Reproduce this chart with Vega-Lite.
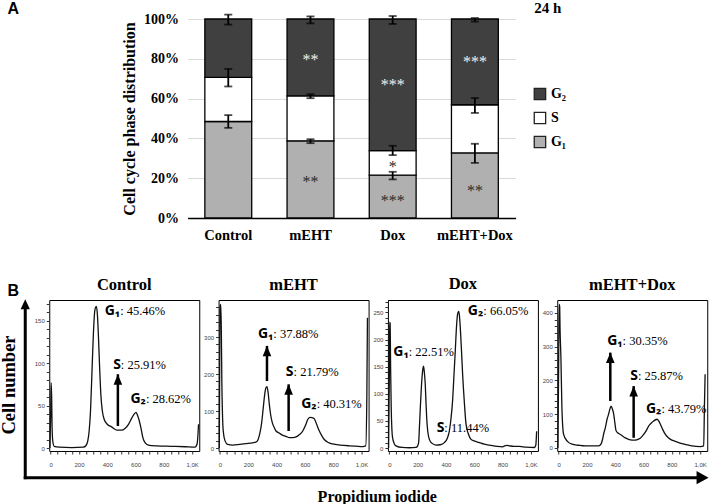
{
  "$schema": "https://vega.github.io/schema/vega-lite/v6.json",
  "padding": {"left": -0.75, "top": 0, "right": 0, "bottom": 0},
  "autosize": {"type": "pad"},
  "background": "white",
  "config": {"view": {"stroke": null}, "font": "Liberation Serif"},
  "datasets": {
    "bars": [
      {"group": "Control", "phase": "G₁", "k": 1, "val": 48.5},
      {"group": "Control", "phase": "S", "k": 2, "val": 22.2},
      {"group": "Control", "phase": "G₂", "k": 3, "val": 29.3},
      {"group": "mEHT", "phase": "G₁", "k": 1, "val": 38.8},
      {"group": "mEHT", "phase": "S", "k": 2, "val": 22.6},
      {"group": "mEHT", "phase": "G₂", "k": 3, "val": 38.6},
      {"group": "Dox", "phase": "G₁", "k": 1, "val": 21.5},
      {"group": "Dox", "phase": "S", "k": 2, "val": 12.4},
      {"group": "Dox", "phase": "G₂", "k": 3, "val": 66.1},
      {"group": "mEHT+Dox", "phase": "G₁", "k": 1, "val": 32.7},
      {"group": "mEHT+Dox", "phase": "S", "k": 2, "val": 24.2},
      {"group": "mEHT+Dox", "phase": "G₂", "k": 3, "val": 43.1}
    ],
    "errs": [
      {"group": "Control", "lo": 45.3, "hi": 51.7},
      {"group": "Control", "lo": 66.1, "hi": 74.9},
      {"group": "Control", "lo": 97.2, "hi": 102.2},
      {"group": "mEHT", "lo": 37.6, "hi": 39.6},
      {"group": "mEHT", "lo": 60.2, "hi": 62.2},
      {"group": "mEHT", "lo": 97.8, "hi": 101.3},
      {"group": "Dox", "lo": 19.4, "hi": 23.2},
      {"group": "Dox", "lo": 31.6, "hi": 36.3},
      {"group": "Dox", "lo": 97.5, "hi": 101.5},
      {"group": "mEHT+Dox", "lo": 27.7, "hi": 37.3},
      {"group": "mEHT+Dox", "lo": 52.8, "hi": 60.3},
      {"group": "mEHT+Dox", "lo": 98.7, "hi": 100.5}
    ],
    "stars": [
      {"group": "mEHT", "phase": "G₂", "y": 81, "t": "**"},
      {"group": "mEHT", "phase": "G₁", "y": 19.6, "t": "**"},
      {"group": "Dox", "phase": "G₂", "y": 68.4, "t": "***"},
      {"group": "Dox", "phase": "S", "y": 27, "t": "*"},
      {"group": "Dox", "phase": "G₁", "y": 10, "t": "***"},
      {"group": "mEHT+Dox", "phase": "G₂", "y": 80, "t": "***"},
      {"group": "mEHT+Dox", "phase": "G₁", "y": 15, "t": "**"}
    ],
    "curves": [
      {"panel": "Control", "x": -5, "y": 0}, {"panel": "Control", "x": 0, "y": 40}, {"panel": "Control", "x": 3, "y": 77}, {"panel": "Control", "x": 7, "y": 60}, {"panel": "Control", "x": 10, "y": 25}, {"panel": "Control", "x": 15, "y": 8}, {"panel": "Control", "x": 25, "y": 2}, {"panel": "Control", "x": 60, "y": 1}, {"panel": "Control", "x": 150, "y": 0.5}, {"panel": "Control", "x": 230, "y": 1}, {"panel": "Control", "x": 250, "y": 3}, {"panel": "Control", "x": 262, "y": 8}, {"panel": "Control", "x": 272, "y": 20}, {"panel": "Control", "x": 282, "y": 45}, {"panel": "Control", "x": 292, "y": 90}, {"panel": "Control", "x": 302, "y": 135}, {"panel": "Control", "x": 312, "y": 162}, {"panel": "Control", "x": 322, "y": 167}, {"panel": "Control", "x": 330, "y": 158}, {"panel": "Control", "x": 338, "y": 130}, {"panel": "Control", "x": 346, "y": 95}, {"panel": "Control", "x": 355, "y": 62}, {"panel": "Control", "x": 365, "y": 44}, {"panel": "Control", "x": 378, "y": 34}, {"panel": "Control", "x": 400, "y": 28}, {"panel": "Control", "x": 430, "y": 25}, {"panel": "Control", "x": 470, "y": 21}, {"panel": "Control", "x": 500, "y": 21}, {"panel": "Control", "x": 525, "y": 23}, {"panel": "Control", "x": 550, "y": 28}, {"panel": "Control", "x": 572, "y": 35}, {"panel": "Control", "x": 590, "y": 40}, {"panel": "Control", "x": 604, "y": 42}, {"panel": "Control", "x": 615, "y": 38}, {"panel": "Control", "x": 628, "y": 31}, {"panel": "Control", "x": 640, "y": 22}, {"panel": "Control", "x": 652, "y": 12}, {"panel": "Control", "x": 668, "y": 6}, {"panel": "Control", "x": 690, "y": 3.5}, {"panel": "Control", "x": 750, "y": 2.5}, {"panel": "Control", "x": 850, "y": 2}, {"panel": "Control", "x": 950, "y": 1.5}, {"panel": "Control", "x": 1020, "y": 1}, {"panel": "Control", "x": 1035, "y": 5}, {"panel": "Control", "x": 1045, "y": 28},
      {"panel": "mEHT", "x": -5, "y": 0}, {"panel": "mEHT", "x": 0, "y": 380}, {"panel": "mEHT", "x": 6, "y": 388}, {"panel": "mEHT", "x": 10, "y": 300}, {"panel": "mEHT", "x": 13, "y": 180}, {"panel": "mEHT", "x": 17, "y": 100}, {"panel": "mEHT", "x": 23, "y": 46}, {"panel": "mEHT", "x": 35, "y": 20}, {"panel": "mEHT", "x": 54, "y": 10}, {"panel": "mEHT", "x": 90, "y": 8}, {"panel": "mEHT", "x": 140, "y": 10}, {"panel": "mEHT", "x": 184, "y": 12}, {"panel": "mEHT", "x": 230, "y": 14}, {"panel": "mEHT", "x": 254, "y": 16}, {"panel": "mEHT", "x": 268, "y": 22}, {"panel": "mEHT", "x": 282, "y": 40}, {"panel": "mEHT", "x": 295, "y": 70}, {"panel": "mEHT", "x": 306, "y": 110}, {"panel": "mEHT", "x": 316, "y": 145}, {"panel": "mEHT", "x": 324, "y": 162}, {"panel": "mEHT", "x": 332, "y": 166}, {"panel": "mEHT", "x": 340, "y": 150}, {"panel": "mEHT", "x": 348, "y": 120}, {"panel": "mEHT", "x": 358, "y": 90}, {"panel": "mEHT", "x": 370, "y": 68}, {"panel": "mEHT", "x": 385, "y": 54}, {"panel": "mEHT", "x": 396, "y": 46}, {"panel": "mEHT", "x": 420, "y": 40}, {"panel": "mEHT", "x": 442, "y": 35}, {"panel": "mEHT", "x": 470, "y": 31}, {"panel": "mEHT", "x": 490, "y": 28}, {"panel": "mEHT", "x": 515, "y": 28}, {"panel": "mEHT", "x": 538, "y": 30}, {"panel": "mEHT", "x": 560, "y": 36}, {"panel": "mEHT", "x": 585, "y": 46}, {"panel": "mEHT", "x": 605, "y": 62}, {"panel": "mEHT", "x": 620, "y": 77}, {"panel": "mEHT", "x": 635, "y": 83}, {"panel": "mEHT", "x": 650, "y": 82}, {"panel": "mEHT", "x": 665, "y": 80}, {"panel": "mEHT", "x": 685, "y": 62}, {"panel": "mEHT", "x": 702, "y": 46}, {"panel": "mEHT", "x": 720, "y": 33}, {"panel": "mEHT", "x": 737, "y": 23}, {"panel": "mEHT", "x": 765, "y": 15}, {"panel": "mEHT", "x": 796, "y": 11}, {"panel": "mEHT", "x": 850, "y": 8}, {"panel": "mEHT", "x": 914, "y": 6}, {"panel": "mEHT", "x": 960, "y": 5}, {"panel": "mEHT", "x": 1008, "y": 4}, {"panel": "mEHT", "x": 1030, "y": 6}, {"panel": "mEHT", "x": 1038, "y": 150}, {"panel": "mEHT", "x": 1042, "y": 352},
      {"panel": "Dox", "x": -5, "y": 0}, {"panel": "Dox", "x": 0, "y": 130}, {"panel": "Dox", "x": 2, "y": 232}, {"panel": "Dox", "x": 6, "y": 230}, {"panel": "Dox", "x": 9, "y": 150}, {"panel": "Dox", "x": 13, "y": 80}, {"panel": "Dox", "x": 18, "y": 35}, {"panel": "Dox", "x": 23, "y": 19}, {"panel": "Dox", "x": 35, "y": 8}, {"panel": "Dox", "x": 47, "y": 4}, {"panel": "Dox", "x": 90, "y": 1}, {"panel": "Dox", "x": 141, "y": 0.5}, {"panel": "Dox", "x": 188, "y": 1}, {"panel": "Dox", "x": 200, "y": 4}, {"panel": "Dox", "x": 207, "y": 10}, {"panel": "Dox", "x": 213, "y": 40}, {"panel": "Dox", "x": 219, "y": 74}, {"panel": "Dox", "x": 225, "y": 105}, {"panel": "Dox", "x": 231, "y": 130}, {"panel": "Dox", "x": 237, "y": 146}, {"panel": "Dox", "x": 242, "y": 151}, {"panel": "Dox", "x": 248, "y": 138}, {"panel": "Dox", "x": 254, "y": 117}, {"panel": "Dox", "x": 259, "y": 85}, {"panel": "Dox", "x": 264, "y": 56}, {"panel": "Dox", "x": 272, "y": 30}, {"panel": "Dox", "x": 283, "y": 16}, {"panel": "Dox", "x": 300, "y": 9}, {"panel": "Dox", "x": 330, "y": 5.5}, {"panel": "Dox", "x": 360, "y": 6}, {"panel": "Dox", "x": 389, "y": 10}, {"panel": "Dox", "x": 410, "y": 18}, {"panel": "Dox", "x": 424, "y": 31}, {"panel": "Dox", "x": 436, "y": 55}, {"panel": "Dox", "x": 447, "y": 87}, {"panel": "Dox", "x": 456, "y": 130}, {"panel": "Dox", "x": 466, "y": 179}, {"panel": "Dox", "x": 475, "y": 225}, {"panel": "Dox", "x": 483, "y": 248}, {"panel": "Dox", "x": 490, "y": 252}, {"panel": "Dox", "x": 495, "y": 245}, {"panel": "Dox", "x": 500, "y": 228}, {"panel": "Dox", "x": 509, "y": 185}, {"panel": "Dox", "x": 518, "y": 136}, {"panel": "Dox", "x": 530, "y": 85}, {"panel": "Dox", "x": 542, "y": 44}, {"panel": "Dox", "x": 560, "y": 25}, {"panel": "Dox", "x": 577, "y": 16}, {"panel": "Dox", "x": 600, "y": 13}, {"panel": "Dox", "x": 636, "y": 10}, {"panel": "Dox", "x": 670, "y": 7}, {"panel": "Dox", "x": 707, "y": 5.5}, {"panel": "Dox", "x": 760, "y": 3}, {"panel": "Dox", "x": 801, "y": 2}, {"panel": "Dox", "x": 815, "y": 4}, {"panel": "Dox", "x": 830, "y": 5}, {"panel": "Dox", "x": 850, "y": 4}, {"panel": "Dox", "x": 880, "y": 3}, {"panel": "Dox", "x": 920, "y": 3}, {"panel": "Dox", "x": 966, "y": 1.5}, {"panel": "Dox", "x": 1025, "y": 1}, {"panel": "Dox", "x": 1035, "y": 5}, {"panel": "Dox", "x": 1041, "y": 31},
      {"panel": "mEHT+Dox", "x": -5, "y": 0}, {"panel": "mEHT+Dox", "x": 0, "y": 250}, {"panel": "mEHT+Dox", "x": 3, "y": 425}, {"panel": "mEHT+Dox", "x": 7, "y": 420}, {"panel": "mEHT+Dox", "x": 10, "y": 350}, {"panel": "mEHT+Dox", "x": 16, "y": 267}, {"panel": "mEHT+Dox", "x": 23, "y": 119}, {"panel": "mEHT+Dox", "x": 35, "y": 40}, {"panel": "mEHT+Dox", "x": 59, "y": 21}, {"panel": "mEHT+Dox", "x": 94, "y": 11}, {"panel": "mEHT+Dox", "x": 140, "y": 8}, {"panel": "mEHT+Dox", "x": 188, "y": 6}, {"panel": "mEHT+Dox", "x": 283, "y": 6}, {"panel": "mEHT+Dox", "x": 300, "y": 12}, {"panel": "mEHT+Dox", "x": 310, "y": 25}, {"panel": "mEHT+Dox", "x": 320, "y": 45}, {"panel": "mEHT+Dox", "x": 330, "y": 60}, {"panel": "mEHT+Dox", "x": 342, "y": 85}, {"panel": "mEHT+Dox", "x": 353, "y": 100}, {"panel": "mEHT+Dox", "x": 362, "y": 115}, {"panel": "mEHT+Dox", "x": 370, "y": 124}, {"panel": "mEHT+Dox", "x": 380, "y": 115}, {"panel": "mEHT+Dox", "x": 389, "y": 100}, {"panel": "mEHT+Dox", "x": 397, "y": 75}, {"panel": "mEHT+Dox", "x": 405, "y": 52}, {"panel": "mEHT+Dox", "x": 420, "y": 44}, {"panel": "mEHT+Dox", "x": 436, "y": 40}, {"panel": "mEHT+Dox", "x": 471, "y": 30}, {"panel": "mEHT+Dox", "x": 518, "y": 23}, {"panel": "mEHT+Dox", "x": 540, "y": 23}, {"panel": "mEHT+Dox", "x": 565, "y": 26}, {"panel": "mEHT+Dox", "x": 585, "y": 32}, {"panel": "mEHT+Dox", "x": 601, "y": 40}, {"panel": "mEHT+Dox", "x": 620, "y": 52}, {"panel": "mEHT+Dox", "x": 636, "y": 65}, {"panel": "mEHT+Dox", "x": 655, "y": 74}, {"panel": "mEHT+Dox", "x": 671, "y": 80}, {"panel": "mEHT+Dox", "x": 695, "y": 85}, {"panel": "mEHT+Dox", "x": 710, "y": 78}, {"panel": "mEHT+Dox", "x": 719, "y": 70}, {"panel": "mEHT+Dox", "x": 735, "y": 55}, {"panel": "mEHT+Dox", "x": 754, "y": 40}, {"panel": "mEHT+Dox", "x": 775, "y": 30}, {"panel": "mEHT+Dox", "x": 801, "y": 23}, {"panel": "mEHT+Dox", "x": 835, "y": 18}, {"panel": "mEHT+Dox", "x": 872, "y": 13}, {"panel": "mEHT+Dox", "x": 910, "y": 9}, {"panel": "mEHT+Dox", "x": 942, "y": 6}, {"panel": "mEHT+Dox", "x": 1001, "y": 4}, {"panel": "mEHT+Dox", "x": 1025, "y": 6}, {"panel": "mEHT+Dox", "x": 1030, "y": 120}, {"panel": "mEHT+Dox", "x": 1035, "y": 218}
    ],
    "ann": [
      {"panel": "Control", "x": 491, "y": 157, "lab": "G₁", "val": ": 45.46%"},
      {"panel": "Control", "x": 496, "y": 93, "lab": "S", "val": ": 25.91%"},
      {"panel": "Control", "x": 673, "y": 53.5, "lab": "G₂", "val": ": 28.62%"},
      {"panel": "mEHT", "x": 377, "y": 298, "lab": "G₁", "val": ": 37.88%"},
      {"panel": "mEHT", "x": 520, "y": 195, "lab": "S", "val": ": 21.79%"},
      {"panel": "mEHT", "x": 683, "y": 107, "lab": "G₂", "val": ": 40.31%"},
      {"panel": "Dox", "x": 664, "y": 245, "lab": "G₂", "val": ": 66.05%"},
      {"panel": "Dox", "x": 137, "y": 170, "lab": "G₁", "val": ": 22.51%"},
      {"panel": "Dox", "x": 389, "y": 30, "lab": "S", "val": ": 11.44%"},
      {"panel": "mEHT+Dox", "x": 452, "y": 305, "lab": "G₁", "val": ": 30.35%"},
      {"panel": "mEHT+Dox", "x": 560, "y": 200, "lab": "S", "val": ": 25.87%"},
      {"panel": "mEHT+Dox", "x": 726, "y": 104, "lab": "G₂", "val": ": 43.79%"}
    ],
    "arr": [
      {"panel": "Control", "x": 475, "y": 26, "y1": 87},
      {"panel": "mEHT", "x": 332, "y": 181, "y1": 276},
      {"panel": "mEHT", "x": 485, "y": 46, "y1": 172},
      {"panel": "mEHT+Dox", "x": 365, "y": 139, "y1": 282},
      {"panel": "mEHT+Dox", "x": 530, "y": 30, "y1": 183}
    ],
    "frameLines": [
      {"u": -24, "v": 460.2, "u2": -24, "v2": 284},
      {"u": -25.5, "v": 458.7, "u2": 652, "v2": 458.7}
    ],
    "frameHeads": [
      {"dir": "up", "u": -24, "v": 285.3},
      {"dir": "right", "u": 653.3, "v": 458.7}
    ],
    "frameText": [
      {"kind": "ytitle", "u": -40.5, "v": 366, "t": "Cell number"},
      {"kind": "xtitle", "u": 328, "v": 483, "t": "Propidium iodide"},
      {"kind": "letter", "u": -41.7, "v": -4.7, "t": "A"},
      {"kind": "letter", "u": -41.7, "v": 277, "t": "B"},
      {"kind": "time", "u": 485, "v": -6.3, "t": "24 h"}
    ]
  },
  "vconcat": [
    {
      "hconcat": [
        {
          "width": 119,
          "height": 199,
          "encoding": {
            "x": {"field": "u", "type": "quantitative", "scale": {"domain": [0, 119], "nice": false, "zero": false}, "axis": null},
            "y": {"field": "v", "type": "quantitative", "scale": {"domain": [0, 199], "reverse": true, "nice": false, "zero": false}, "axis": null}
          },
          "layer": [
            {"data": {"name": "frameLines"}, "mark": {"type": "rule", "color": "black", "strokeWidth": 3}, "encoding": {"x2": {"field": "u2"}, "y2": {"field": "v2"}}},
            {"data": {"name": "frameHeads"}, "transform": [{"filter": "datum.dir === 'up'"}], "mark": {"type": "point", "shape": "M0,-1L-0.93,1L0.93,1Z", "size": 100, "filled": true, "color": "black", "opacity": 1}},
            {"data": {"name": "frameHeads"}, "transform": [{"filter": "datum.dir === 'right'"}], "mark": {"type": "point", "shape": "M1,0L-1,-1.1L-1,1.1Z", "size": 144, "filled": true, "color": "black", "opacity": 1}},
            {"data": {"name": "frameText"}, "transform": [{"filter": "datum.kind === 'ytitle'"}], "mark": {"type": "text", "angle": 270, "align": "center", "baseline": "middle", "font": "Liberation Serif", "fontWeight": "bold", "fontSize": 18.5, "color": "black"}, "encoding": {"text": {"field": "t"}}},
            {"data": {"name": "frameText"}, "transform": [{"filter": "datum.kind === 'xtitle'"}], "mark": {"type": "text", "align": "center", "baseline": "alphabetic", "font": "Liberation Serif", "fontWeight": "bold", "fontSize": 16, "color": "black"}, "encoding": {"text": {"field": "t"}}},
            {"data": {"name": "frameText"}, "transform": [{"filter": "datum.kind === 'letter'"}], "mark": {"type": "text", "align": "left", "baseline": "alphabetic", "font": "Liberation Sans", "fontWeight": "bold", "fontSize": 16, "color": "black"}, "encoding": {"text": {"field": "t"}}},
            {"data": {"name": "frameText"}, "transform": [{"filter": "datum.kind === 'time'"}], "mark": {"type": "text", "align": "left", "baseline": "alphabetic", "font": "Liberation Serif", "fontWeight": "bold", "fontSize": 15, "color": "black"}, "encoding": {"text": {"field": "t"}}}
          ]
        },
        {
          "width": 328,
          "height": 199,
          "layer": [
            {
              "data": {"name": "bars"},
              "mark": {"type": "bar", "stroke": "black", "strokeWidth": 1.3},
              "encoding": {
                "x": {"field": "group", "type": "nominal", "title": null, "scale": {"domain": ["Control", "mEHT", "Dox", "mEHT+Dox"], "paddingInner": 0.43, "paddingOuter": 0.21},
                  "axis": {"labelAngle": 0, "labelFont": "Liberation Serif", "labelFontWeight": "bold", "labelFontSize": 14.5, "labelColor": "black", "ticks": false, "domain": true, "domainColor": "black", "domainWidth": 1.5, "labelPadding": 10}},
                "y": {"field": "val", "type": "quantitative", "stack": "zero", "title": "Cell cycle phase distribution", "scale": {"domain": [0, 100], "nice": false},
                  "axis": {"values": [0, 20, 40, 60, 80, 100], "labelExpr": "datum.value + '%'", "labelOverlap": false, "labelFont": "Liberation Serif", "labelFontSize": 14, "labelFontWeight": "bold", "labelColor": "black", "ticks": false, "domain": false, "grid": true, "gridColor": "#d9d9d9", "gridWidth": 1, "labelPadding": 9, "titleFont": "Liberation Serif", "titleFontSize": 16, "titleFontWeight": "bold", "titleColor": "black", "titlePadding": 6}},
                "color": {"field": "phase", "type": "nominal", "scale": {"domain": ["G₂", "S", "G₁"], "range": ["#404040", "#ffffff", "#b0b0b0"]},
                  "legend": {"orient": "none", "legendX": 483.7, "legendY": 68, "title": null, "symbolType": "square", "symbolSize": 130, "symbolStrokeColor": "#222", "symbolStrokeWidth": 1.3, "symbolOpacity": 1, "labelFont": "Liberation Serif", "labelFontWeight": "bold", "labelFontSize": 14, "labelColor": "black", "rowPadding": 6, "labelOffset": 4, "padding": 0}},
                "order": {"field": "k", "type": "quantitative"}
              }
            },
            {
              "data": {"name": "errs"},
              "mark": {"type": "rule", "color": "black", "strokeWidth": 1.8},
              "encoding": {
                "x": {"field": "group", "type": "nominal", "title": null, "scale": {"domain": ["Control", "mEHT", "Dox", "mEHT+Dox"]},
                  "axis": {"labelAngle": 0, "labelFont": "Liberation Serif", "labelFontWeight": "bold", "labelFontSize": 14.5, "labelColor": "black", "ticks": false, "domain": true, "domainColor": "black", "domainWidth": 1.5, "labelPadding": 10}},
                "y": {"field": "lo", "type": "quantitative", "title": "Cell cycle phase distribution", "scale": {"domain": [0, 100], "nice": false},
                  "axis": {"values": [0, 20, 40, 60, 80, 100], "labelExpr": "datum.value + '%'", "labelOverlap": false, "labelFont": "Liberation Serif", "labelFontSize": 14, "labelFontWeight": "bold", "labelColor": "black", "ticks": false, "domain": false, "grid": true, "gridColor": "#d9d9d9", "gridWidth": 1, "labelPadding": 9, "titleFont": "Liberation Serif", "titleFontSize": 16, "titleFontWeight": "bold", "titleColor": "black", "titlePadding": 6}},
                "y2": {"field": "hi"}
              }
            },
            {
              "data": {"name": "errs"},
              "mark": {"type": "tick", "color": "black", "thickness": 1.8, "size": 8},
              "encoding": {
                "x": {"field": "group", "type": "nominal", "title": null, "scale": {"domain": ["Control", "mEHT", "Dox", "mEHT+Dox"]},
                  "axis": {"labelAngle": 0, "labelFont": "Liberation Serif", "labelFontWeight": "bold", "labelFontSize": 14.5, "labelColor": "black", "ticks": false, "domain": true, "domainColor": "black", "domainWidth": 1.5, "labelPadding": 10}},
                "y": {"field": "lo", "type": "quantitative", "title": "Cell cycle phase distribution", "scale": {"domain": [0, 100], "nice": false},
                  "axis": {"values": [0, 20, 40, 60, 80, 100], "labelExpr": "datum.value + '%'", "labelOverlap": false, "labelFont": "Liberation Serif", "labelFontSize": 14, "labelFontWeight": "bold", "labelColor": "black", "ticks": false, "domain": false, "grid": true, "gridColor": "#d9d9d9", "gridWidth": 1, "labelPadding": 9, "titleFont": "Liberation Serif", "titleFontSize": 16, "titleFontWeight": "bold", "titleColor": "black", "titlePadding": 6}}
              }
            },
            {
              "data": {"name": "errs"},
              "mark": {"type": "tick", "color": "black", "thickness": 1.8, "size": 8},
              "encoding": {
                "x": {"field": "group", "type": "nominal", "title": null, "scale": {"domain": ["Control", "mEHT", "Dox", "mEHT+Dox"]},
                  "axis": {"labelAngle": 0, "labelFont": "Liberation Serif", "labelFontWeight": "bold", "labelFontSize": 14.5, "labelColor": "black", "ticks": false, "domain": true, "domainColor": "black", "domainWidth": 1.5, "labelPadding": 10}},
                "y": {"field": "hi", "type": "quantitative", "title": "Cell cycle phase distribution", "scale": {"domain": [0, 100], "nice": false},
                  "axis": {"values": [0, 20, 40, 60, 80, 100], "labelExpr": "datum.value + '%'", "labelOverlap": false, "labelFont": "Liberation Serif", "labelFontSize": 14, "labelFontWeight": "bold", "labelColor": "black", "ticks": false, "domain": false, "grid": true, "gridColor": "#d9d9d9", "gridWidth": 1, "labelPadding": 9, "titleFont": "Liberation Serif", "titleFontSize": 16, "titleFontWeight": "bold", "titleColor": "black", "titlePadding": 6}}
              }
            },
            {
              "data": {"name": "stars"},
              "transform": [{"filter": "datum.phase === 'G₂'"}],
              "mark": {"type": "text", "font": "Liberation Serif", "fontSize": 16, "baseline": "alphabetic", "dy": 8, "color": "#f0f0f0"},
              "encoding": {
                "x": {"field": "group", "type": "nominal", "title": null, "scale": {"domain": ["Control", "mEHT", "Dox", "mEHT+Dox"]},
                  "axis": {"labelAngle": 0, "labelFont": "Liberation Serif", "labelFontWeight": "bold", "labelFontSize": 14.5, "labelColor": "black", "ticks": false, "domain": true, "domainColor": "black", "domainWidth": 1.5, "labelPadding": 10}},
                "y": {"field": "y", "type": "quantitative", "title": "Cell cycle phase distribution", "scale": {"domain": [0, 100], "nice": false},
                  "axis": {"values": [0, 20, 40, 60, 80, 100], "labelExpr": "datum.value + '%'", "labelOverlap": false, "labelFont": "Liberation Serif", "labelFontSize": 14, "labelFontWeight": "bold", "labelColor": "black", "ticks": false, "domain": false, "grid": true, "gridColor": "#d9d9d9", "gridWidth": 1, "labelPadding": 9, "titleFont": "Liberation Serif", "titleFontSize": 16, "titleFontWeight": "bold", "titleColor": "black", "titlePadding": 6}},
                "text": {"field": "t"}
              }
            },
            {
              "data": {"name": "stars"},
              "transform": [{"filter": "datum.phase !== 'G₂'"}],
              "mark": {"type": "text", "font": "Liberation Serif", "fontSize": 16, "baseline": "alphabetic", "dy": 8, "color": "#2b2b2b"},
              "encoding": {
                "x": {"field": "group", "type": "nominal", "title": null, "scale": {"domain": ["Control", "mEHT", "Dox", "mEHT+Dox"]},
                  "axis": {"labelAngle": 0, "labelFont": "Liberation Serif", "labelFontWeight": "bold", "labelFontSize": 14.5, "labelColor": "black", "ticks": false, "domain": true, "domainColor": "black", "domainWidth": 1.5, "labelPadding": 10}},
                "y": {"field": "y", "type": "quantitative", "title": "Cell cycle phase distribution", "scale": {"domain": [0, 100], "nice": false},
                  "axis": {"values": [0, 20, 40, 60, 80, 100], "labelExpr": "datum.value + '%'", "labelOverlap": false, "labelFont": "Liberation Serif", "labelFontSize": 14, "labelFontWeight": "bold", "labelColor": "black", "ticks": false, "domain": false, "grid": true, "gridColor": "#d9d9d9", "gridWidth": 1, "labelPadding": 9, "titleFont": "Liberation Serif", "titleFontSize": 16, "titleFontWeight": "bold", "titleColor": "black", "titlePadding": 6}},
                "text": {"field": "t"}
              }
            }
          ]
        }
      ],
      "spacing": 19.33,
      "bounds": "flush"
    },
    {
      "hconcat": [
        {
          "width": 150,
          "height": 151,
          "view": {"stroke": "black", "strokeWidth": 1},
          "title": {"text": "Control", "font": "Liberation Serif", "fontSize": 16.5, "fontWeight": "bold", "color": "black", "offset": -6.8, "baseline": "alphabetic", "anchor": "middle"},
          "encoding": {
            "x": {"field": "x", "type": "quantitative", "title": null, "scale": {"domain": [-10, 1050], "nice": false, "zero": false},
              "axis": {"values": [0, 50, 100, 150, 200, 250, 300, 350, 400, 450, 500, 550, 600, 650, 700, 750, 800, 850, 900, 950, 1000], "labelExpr": "datum.value == 1000 ? '1,0K' : (datum.value % 200 == 0 ? datum.label : '')", "labelOverlap": false, "labelFont": "Liberation Sans", "labelFontSize": 6, "labelColor": "#444", "tickSize": 3, "tickColor": "#333", "domain": false, "grid": false, "labelPadding": 7}},
            "y": {"field": "y", "type": "quantitative", "title": null, "scale": {"domain": [-3.5, 174.5], "nice": false, "zero": false},
              "axis": {"values": [0, 10, 20, 30, 40, 50, 60, 70, 80, 90, 100, 110, 120, 130, 140, 150, 160, 170], "labelExpr": "datum.value % 50 == 0 ? datum.label : ''", "labelOverlap": false, "labelFont": "Liberation Sans", "labelFontSize": 6, "labelColor": "#444", "tickSize": 3, "tickColor": "#333", "domain": false, "grid": false, "labelPadding": 2}}
          },
          "layer": [
            {"data": {"name": "curves"}, "transform": [{"filter": "datum.panel === 'Control'"}], "mark": {"type": "line", "color": "#111", "strokeWidth": 1.3, "interpolate": "monotone"}},
            {"data": {"name": "ann"}, "transform": [{"filter": "datum.panel === 'Control'"}], "mark": {"type": "text", "align": "right", "baseline": "alphabetic", "font": "Noto Sans", "fontWeight": "bold", "fontSize": 14, "color": "black"}, "encoding": {"text": {"field": "lab"}}},
            {"data": {"name": "ann"}, "transform": [{"filter": "datum.panel === 'Control'"}], "mark": {"type": "text", "align": "left", "baseline": "alphabetic", "font": "Liberation Serif", "fontSize": 12.5, "color": "black"}, "encoding": {"text": {"field": "val"}}},
            {"data": {"name": "arr"}, "transform": [{"filter": "datum.panel === 'Control'"}], "mark": {"type": "rule", "color": "black", "strokeWidth": 2.5}, "encoding": {"y2": {"field": "y1"}}},
            {"data": {"name": "arr"}, "transform": [{"filter": "datum.panel === 'Control'"}], "mark": {"type": "point", "shape": "M0,-1L-0.82,1L0.82,1Z", "size": 110, "filled": true, "color": "black", "opacity": 1, "yOffset": 5.2}, "encoding": {"y": {"field": "y1", "type": "quantitative", "title": null, "scale": {"domain": [-3.5, 174.5], "nice": false, "zero": false}}}}
          ]
        },
        {
          "width": 150,
          "height": 151,
          "view": {"stroke": "black", "strokeWidth": 1},
          "title": {"text": "mEHT", "font": "Liberation Serif", "fontSize": 16.5, "fontWeight": "bold", "color": "black", "offset": -6.8, "baseline": "alphabetic", "anchor": "middle"},
          "encoding": {
            "x": {"field": "x", "type": "quantitative", "title": null, "scale": {"domain": [-10, 1050], "nice": false, "zero": false},
              "axis": {"values": [0, 50, 100, 150, 200, 250, 300, 350, 400, 450, 500, 550, 600, 650, 700, 750, 800, 850, 900, 950, 1000], "labelExpr": "datum.value == 1000 ? '1,0K' : (datum.value % 200 == 0 ? datum.label : '')", "labelOverlap": false, "labelFont": "Liberation Sans", "labelFontSize": 6, "labelColor": "#444", "tickSize": 3, "tickColor": "#333", "domain": false, "grid": false, "labelPadding": 7}},
            "y": {"field": "y", "type": "quantitative", "title": null, "scale": {"domain": [-8, 400], "nice": false, "zero": false},
              "axis": {"values": [0, 20, 40, 60, 80, 100, 120, 140, 160, 180, 200, 220, 240, 260, 280, 300, 320, 340, 360, 380], "labelExpr": "datum.value % 100 == 0 ? datum.label : ''", "labelOverlap": false, "labelFont": "Liberation Sans", "labelFontSize": 6, "labelColor": "#444", "tickSize": 3, "tickColor": "#333", "domain": false, "grid": false, "labelPadding": 2}}
          },
          "layer": [
            {"data": {"name": "curves"}, "transform": [{"filter": "datum.panel === 'mEHT'"}], "mark": {"type": "line", "color": "#111", "strokeWidth": 1.3, "interpolate": "monotone"}},
            {"data": {"name": "ann"}, "transform": [{"filter": "datum.panel === 'mEHT'"}], "mark": {"type": "text", "align": "right", "baseline": "alphabetic", "font": "Noto Sans", "fontWeight": "bold", "fontSize": 14, "color": "black"}, "encoding": {"text": {"field": "lab"}}},
            {"data": {"name": "ann"}, "transform": [{"filter": "datum.panel === 'mEHT'"}], "mark": {"type": "text", "align": "left", "baseline": "alphabetic", "font": "Liberation Serif", "fontSize": 12.5, "color": "black"}, "encoding": {"text": {"field": "val"}}},
            {"data": {"name": "arr"}, "transform": [{"filter": "datum.panel === 'mEHT'"}], "mark": {"type": "rule", "color": "black", "strokeWidth": 2.5}, "encoding": {"y2": {"field": "y1"}}},
            {"data": {"name": "arr"}, "transform": [{"filter": "datum.panel === 'mEHT'"}], "mark": {"type": "point", "shape": "M0,-1L-0.82,1L0.82,1Z", "size": 110, "filled": true, "color": "black", "opacity": 1, "yOffset": 5.2}, "encoding": {"y": {"field": "y1", "type": "quantitative", "title": null, "scale": {"domain": [-8, 400], "nice": false, "zero": false}}}}
          ]
        },
        {
          "width": 150,
          "height": 151,
          "view": {"stroke": "black", "strokeWidth": 1},
          "title": {"text": "Dox", "font": "Liberation Serif", "fontSize": 16.5, "fontWeight": "bold", "color": "black", "offset": -6.8, "baseline": "alphabetic", "anchor": "middle"},
          "encoding": {
            "x": {"field": "x", "type": "quantitative", "title": null, "scale": {"domain": [-10, 1050], "nice": false, "zero": false},
              "axis": {"values": [0, 50, 100, 150, 200, 250, 300, 350, 400, 450, 500, 550, 600, 650, 700, 750, 800, 850, 900, 950, 1000], "labelExpr": "datum.value == 1000 ? '1,0K' : (datum.value % 200 == 0 ? datum.label : '')", "labelOverlap": false, "labelFont": "Liberation Sans", "labelFontSize": 6, "labelColor": "#444", "tickSize": 3, "tickColor": "#333", "domain": false, "grid": false, "labelPadding": 7}},
            "y": {"field": "y", "type": "quantitative", "title": null, "scale": {"domain": [-5.5, 273], "nice": false, "zero": false},
              "axis": {"values": [0, 10, 20, 30, 40, 50, 60, 70, 80, 90, 100, 110, 120, 130, 140, 150, 160, 170, 180, 190, 200, 210, 220, 230, 240, 250, 260, 270], "labelExpr": "datum.value % 50 == 0 ? datum.label : ''", "labelOverlap": false, "labelFont": "Liberation Sans", "labelFontSize": 6, "labelColor": "#444", "tickSize": 3, "tickColor": "#333", "domain": false, "grid": false, "labelPadding": 2}}
          },
          "layer": [
            {"data": {"name": "curves"}, "transform": [{"filter": "datum.panel === 'Dox'"}], "mark": {"type": "line", "color": "#111", "strokeWidth": 1.3, "interpolate": "monotone"}},
            {"data": {"name": "ann"}, "transform": [{"filter": "datum.panel === 'Dox'"}], "mark": {"type": "text", "align": "right", "baseline": "alphabetic", "font": "Noto Sans", "fontWeight": "bold", "fontSize": 14, "color": "black"}, "encoding": {"text": {"field": "lab"}}},
            {"data": {"name": "ann"}, "transform": [{"filter": "datum.panel === 'Dox'"}], "mark": {"type": "text", "align": "left", "baseline": "alphabetic", "font": "Liberation Serif", "fontSize": 12.5, "color": "black"}, "encoding": {"text": {"field": "val"}}}
          ]
        },
        {
          "width": 150,
          "height": 151,
          "view": {"stroke": "black", "strokeWidth": 1},
          "title": {"text": "mEHT+Dox", "font": "Liberation Serif", "fontSize": 16.5, "fontWeight": "bold", "color": "black", "offset": -6.8, "baseline": "alphabetic", "anchor": "middle"},
          "encoding": {
            "x": {"field": "x", "type": "quantitative", "title": null, "scale": {"domain": [-10, 1050], "nice": false, "zero": false},
              "axis": {"values": [0, 50, 100, 150, 200, 250, 300, 350, 400, 450, 500, 550, 600, 650, 700, 750, 800, 850, 900, 950, 1000], "labelExpr": "datum.value == 1000 ? '1,0K' : (datum.value % 200 == 0 ? datum.label : '')", "labelOverlap": false, "labelFont": "Liberation Sans", "labelFontSize": 6, "labelColor": "#444", "tickSize": 3, "tickColor": "#333", "domain": false, "grid": false, "labelPadding": 7}},
            "y": {"field": "y", "type": "quantitative", "title": null, "scale": {"domain": [-9, 437.7], "nice": false, "zero": false},
              "axis": {"values": [0, 20, 40, 60, 80, 100, 120, 140, 160, 180, 200, 220, 240, 260, 280, 300, 320, 340, 360, 380, 400, 420], "labelExpr": "datum.value % 100 == 0 ? datum.label : ''", "labelOverlap": false, "labelFont": "Liberation Sans", "labelFontSize": 6, "labelColor": "#444", "tickSize": 3, "tickColor": "#333", "domain": false, "grid": false, "labelPadding": 2}}
          },
          "layer": [
            {"data": {"name": "curves"}, "transform": [{"filter": "datum.panel === 'mEHT+Dox'"}], "mark": {"type": "line", "color": "#111", "strokeWidth": 1.3, "interpolate": "monotone"}},
            {"data": {"name": "ann"}, "transform": [{"filter": "datum.panel === 'mEHT+Dox'"}], "mark": {"type": "text", "align": "right", "baseline": "alphabetic", "font": "Noto Sans", "fontWeight": "bold", "fontSize": 14, "color": "black"}, "encoding": {"text": {"field": "lab"}}},
            {"data": {"name": "ann"}, "transform": [{"filter": "datum.panel === 'mEHT+Dox'"}], "mark": {"type": "text", "align": "left", "baseline": "alphabetic", "font": "Liberation Serif", "fontSize": 12.5, "color": "black"}, "encoding": {"text": {"field": "val"}}},
            {"data": {"name": "arr"}, "transform": [{"filter": "datum.panel === 'mEHT+Dox'"}], "mark": {"type": "rule", "color": "black", "strokeWidth": 2.5}, "encoding": {"y2": {"field": "y1"}}},
            {"data": {"name": "arr"}, "transform": [{"filter": "datum.panel === 'mEHT+Dox'"}], "mark": {"type": "point", "shape": "M0,-1L-0.82,1L0.82,1Z", "size": 110, "filled": true, "color": "black", "opacity": 1, "yOffset": 5.2}, "encoding": {"y": {"field": "y1", "type": "quantitative", "title": null, "scale": {"domain": [-9, 437.7], "nice": false, "zero": false}}}}
          ]
        }
      ],
      "spacing": 19.33,
      "bounds": "flush"
    }
  ],
  "spacing": 281,
  "bounds": "flush"
}
